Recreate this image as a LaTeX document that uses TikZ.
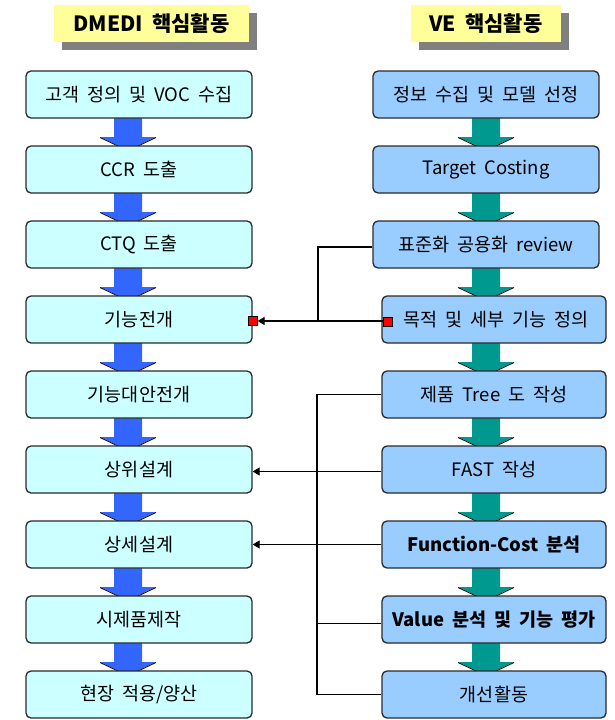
\documentclass[tikz,border=0pt]{standalone}
\usepackage{fontspec}
\setmainfont[WordSpace=1.9]{Noto Sans CJK KR}
\usetikzlibrary{arrows.meta,calc}
\definecolor{lfill}{HTML}{CCFFFF}
\definecolor{rfill}{HTML}{99CCFF}
\definecolor{barrow}{HTML}{3366FF}
\definecolor{tarrow}{HTML}{009990}
\definecolor{hyellow}{HTML}{FFFF99}
\definecolor{hshadow}{HTML}{808080}
\definecolor{bord}{HTML}{2A2A2A}
\begin{document}
\begin{tikzpicture}[x=1pt,y=-1pt,
  boxbase/.style={draw=bord,line width=1.3pt,rounded corners=5pt,minimum height=47pt,inner sep=0pt,font=\fontsize{18.5}{20}\selectfont},
  lbox/.style={boxbase,fill=lfill,minimum width=226pt},
  rbox/.style={boxbase,fill=rfill,minimum width=226pt},
  rboxb/.style={boxbase,fill=rfill,minimum width=224pt},
  head/.style={fill=hyellow,inner sep=0pt,font=\fontsize{21}{23}\selectfont\bfseries},
  conn/.style={line width=1.1pt,draw=black},
  tip/.style={-{Triangle[length=7pt,width=8pt]}},
  redmark/.style={draw=black,line width=0.6pt,fill=red,minimum size=9pt,inner sep=0pt}
]
\useasboundingbox (0,0) rectangle (615,720);
\fill[white] (0,0) rectangle (615,720);
% headers
\fill[hshadow] (62,13) rectangle (257,50);
\node[head,minimum width=195pt,minimum height=37pt] (hl) at (151.5,23.5) {DMEDI 핵심활동};
\fill[hshadow] (419,13) rectangle (569,50);
\node[head,minimum width=150pt,minimum height=37pt] (hr) at (486,23.5) {VE 핵심활동};
% block arrows
\foreach \i in {0,...,7}{
  \pgfmathsetmacro{\t}{118+75*\i}
  \pgfmathsetmacro{\w}{137+75*\i}
  \pgfmathsetmacro{\b}{146+75*\i}
  \foreach \c/\col in {128/barrow,486/tarrow}{
    \fill[\col] (\c-14,\t) -- (\c-14,\w) -- (\c-28,\w) -- (\c-9,\b) -- (\c+9,\b) -- (\c+28,\w) -- (\c+14,\w) -- (\c+14,\t) -- cycle;
    \draw[black,line width=0.8pt] (\c-28,\w+0.5) -- (\c-9,\b+0.5) -- (\c+9,\b+0.5) -- (\c+28,\w+0.5);
  }
}
% left column
\node[lbox] (l1) at (139,94.5) {고객 정의 및 VOC 수집};
\node[lbox] (l2) at (139,169.5) {CCR 도출};
\node[lbox] (l3) at (139,244.5) {CTQ 도출};
\node[lbox] (l4) at (139,319.5) {기능전개};
\node[lbox] (l5) at (139,394.5) {기능대안전개};
\node[lbox] (l6) at (139,469.5) {상위설계};
\node[lbox] (l7) at (139,544.5) {상세설계};
\node[lbox] (l8) at (139,619.5) {시제품제작};
\node[lbox] (l9) at (139,694.5) {현장 적용/양산};
% right column
\node[rbox] (r1) at (486,94.5) {정보 수집 및 모델 선정};
\node[rbox] (r2) at (486,169.5) {Target Costing};
\node[rbox] (r3) at (486,244.5) {표준화 공용화 review};
\node[rboxb] (r4) at (494,319.5) {\hspace*{4pt}목적 및 세부 기능 정의};
\node[rboxb] (r5) at (494,394.5) {제품 Tree 도 작성};
\node[rboxb] (r6) at (494,469.5) {FAST 작성};
\node[rboxb] (r7) at (494,544.5) {\bfseries Function-Cost 분석};
\node[rboxb] (r8) at (494,619.5) {\bfseries Value 분석 및 기능 평가};
\node[rboxb] (r9) at (494,694.5) {개선활동};
% connectors
\coordinate (ja) at (318,321);
\coordinate (vb) at (317,0);
\draw[conn] (r3.west |- 0,247) -- (318,247) -- (ja);
\draw[conn] ($(r4.west)+(6,1.5)$) -- (ja);
\draw[conn,tip] (ja) -- ($(l4.east)+(5,1.5)$);
\node[redmark] (ml) at ($(l4.east)+(0,1)$) {};
\node[redmark] (mr) at ($(r4.west)+(6,2)$) {};
\draw[conn] (r5.west) -- (r5.west -| vb) -- (r9.west -| vb) -- (r9.west);
\draw[conn] ($(r8.west -| vb)+(0,4)$) -- ($(r8.west)+(0,4)$);
\draw[conn,tip] ($(r6.west)+(0,2)$) -- ($(l6.east)+(0,2)$);
\draw[conn,tip] (r7.west) -- (l7.east);
\end{tikzpicture}
\end{document}
